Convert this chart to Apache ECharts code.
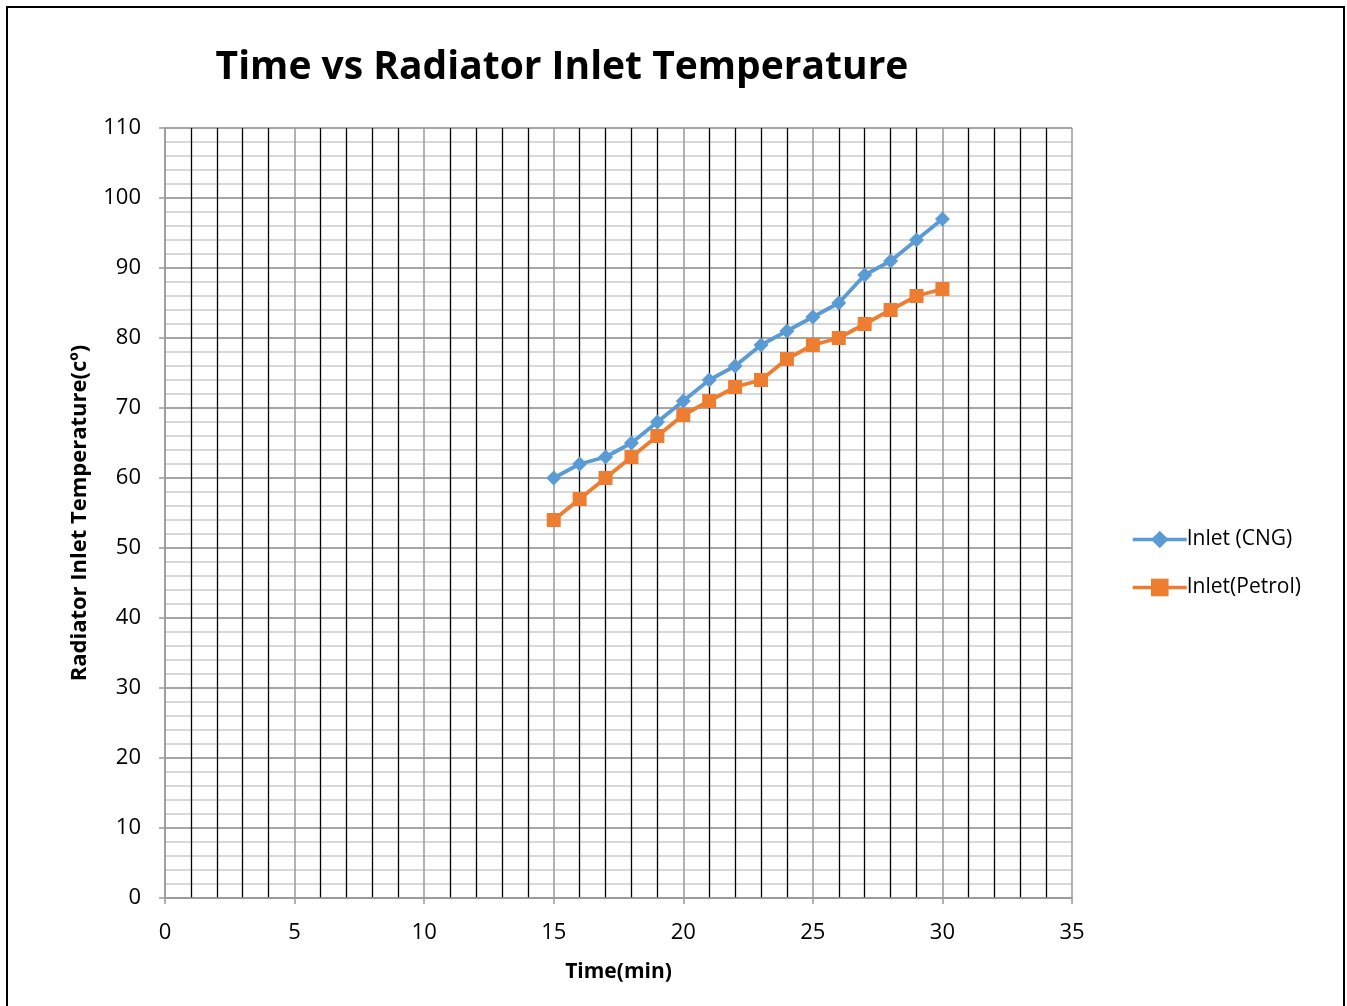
<!DOCTYPE html>
<html>
<head>
<meta charset="utf-8">
<script src="https://cdn.jsdelivr.net/npm/echarts@6/dist/echarts.min.js"></script>
<style>
html,body{margin:0;padding:0;background:#fff;}
#c{width:1347px;height:1006px;}
</style>
</head>
<body>
<div id="c"></div>
<script>
const timeMin = [15,16,17,18,19,20,21,22,23,24,25,26,27,28,29,30];
const inletCNG = [60,62,63,65,68,71,74,76,79,81,83,85,89,91,94,97];
const inletPetrol = [54,57,60,63,66,69,71,73,74,77,79,80,82,84,86,87];
const seriesNames = ['Inlet (CNG)', 'Inlet(Petrol)'];
const titleText = 'Time vs Radiator Inlet Temperature';
const xName = 'Time(min)';
const yName = 'Radiator Inlet Temperature(cº)';

const font = '"Open Sans", "Noto Sans", sans-serif';
const chart = echarts.init(document.getElementById('c'), null, {renderer:'canvas'});
const pairs = (ys) => timeMin.map((t,i)=>[t, ys[i]]);
chart.setOption({
  animation:false,
  backgroundColor:'#fff',
  title:{
    text:titleText, left:557, top:43, textAlign:'center',
    textStyle:{fontFamily:font, fontSize:39, fontWeight:'bold', color:'#000'}
  },
  graphic:[{
    type:'rect', shape:{x:7, y:7, width:1337, height:1010},
    style:{fill:'none', stroke:'#000', lineWidth:2}, silent:true, z:100
  }],
  legend:{
    orient:'vertical', left:1126, top:524, itemGap:27,
    itemWidth:54, itemHeight:22,
    lineStyle:{width:3.5},
    textStyle:{fontFamily:font, fontSize:21, color:'#000', padding:[0,0,0,-5]},
    data:[seriesNames[0], seriesNames[1]]
  },
  grid:{left:165, right:275, top:128, bottom:108},
  xAxis:{
    type:'value', min:0, max:35, interval:5,
    name:xName, nameLocation:'middle', nameGap:64,
    nameTextStyle:{fontFamily:font, fontSize:21, fontWeight:'bold', color:'#000'},
    axisLine:{show:true, onZero:false, lineStyle:{color:'#999', width:1.5}},
    axisTick:{show:true, length:6, lineStyle:{color:'#999', width:1.5}},
    axisLabel:{fontFamily:font, fontSize:22, color:'#000', margin:24},
    splitLine:{show:true, lineStyle:{color:'#999', width:1.5}},
    minorTick:{show:false, splitNumber:5},
    minorSplitLine:{show:true, lineStyle:{color:'#000', width:1.3}}
  },
  yAxis:{
    type:'value', min:0, max:110, interval:10,
    name:yName, nameLocation:'middle', nameGap:74, nameRotate:90,
    nameTextStyle:{fontFamily:font, fontSize:22, fontWeight:'bold', color:'#000'},
    axisLine:{show:true, lineStyle:{color:'#999', width:1.5}},
    axisTick:{show:true, length:6, lineStyle:{color:'#999', width:1.5}},
    axisLabel:{fontFamily:font, fontSize:22, color:'#000', margin:24},
    splitLine:{show:true, lineStyle:{color:'#888', width:1.5}},
    minorTick:{show:false, splitNumber:5},
    minorSplitLine:{show:true, lineStyle:{color:'#ccc', width:1.5}}
  },
  series:[
    {name:seriesNames[0], type:'line', data:pairs(inletCNG),
     symbol:'diamond', symbolSize:15, color:'#5b9bd5',
     lineStyle:{width:3.8, color:'#5b9bd5'}, itemStyle:{color:'#5b9bd5'}, z:3},
    {name:seriesNames[1], type:'line', data:pairs(inletPetrol),
     symbol:'rect', symbolSize:14, color:'#ed7d31',
     lineStyle:{width:3.8, color:'#ed7d31'}, itemStyle:{color:'#ed7d31'}, z:2}
  ]
});
</script>
</body>
</html>
